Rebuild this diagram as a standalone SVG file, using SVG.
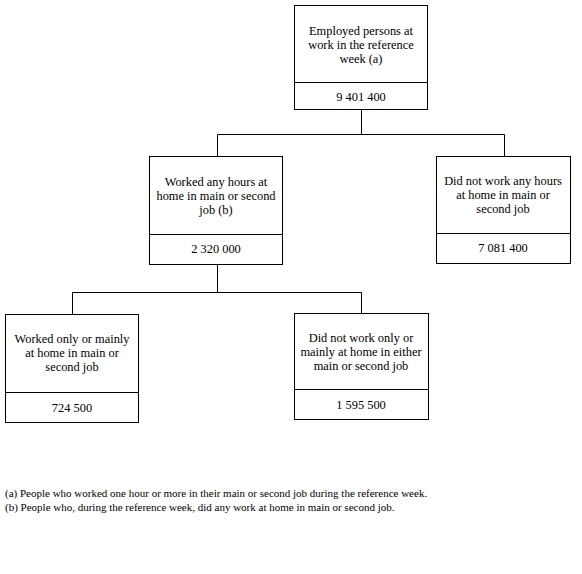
<svg xmlns="http://www.w3.org/2000/svg" width="582" height="574" viewBox="0 0 582 574">
<style>
.box{fill:#fff;stroke:#000;stroke-width:1}
.ln{fill:none;stroke:#000;stroke-width:1}
.t{font-size:12.4px;fill:#000;text-anchor:middle}
.fn{font-size:11px;fill:#000;text-anchor:start}
</style>
<rect width="582" height="574" fill="#fff"/>
<g id="connectors" class="ln">
<path d="M361.5 109V134.5M217.5 134.5H504.5M217.5 134.5V156M504.5 134.5V156"/>
<path d="M217.5 265V292.5M72.5 292.5H361.5M72.5 292.5V314M361.5 292.5V313"/>
</g>
<g font-family="'Liberation Serif', 'Times New Roman', Times, serif">
<g id="n1">
<rect class="box" x="294.5" y="5.5" width="133" height="104"/>
<line class="ln" x1="294.5" y1="82.5" x2="427.5" y2="82.5"/>
<text class="t" x="361" y="35">Employed persons at</text>
<text class="t" x="361" y="49">work in the reference</text>
<text class="t" x="361" y="63">week (a)</text>
<text class="t" x="361" y="101">9 401 400</text>
</g>
<g id="n2">
<rect class="box" x="149.5" y="156.5" width="133" height="108"/>
<line class="ln" x1="149.5" y1="234.5" x2="282.5" y2="234.5"/>
<text class="t" x="216" y="186">Worked any hours at</text>
<text class="t" x="216" y="200">home in main or second</text>
<text class="t" x="216" y="214">job (b)</text>
<text class="t" x="216" y="253">2 320 000</text>
</g>
<g id="n3">
<rect class="box" x="436.5" y="156.5" width="134" height="107"/>
<line class="ln" x1="436.5" y1="233.5" x2="570.5" y2="233.5"/>
<text class="t" x="503" y="185">Did not work any hours</text>
<text class="t" x="503" y="199">at home in main or</text>
<text class="t" x="503" y="213">second job</text>
<text class="t" x="503" y="252">7 081 400</text>
</g>
<g id="n4">
<rect class="box" x="5.5" y="314.5" width="133" height="108"/>
<line class="ln" x1="5.5" y1="392.5" x2="138.5" y2="392.5"/>
<text class="t" x="72" y="343">Worked only or mainly</text>
<text class="t" x="72" y="357">at home in main or</text>
<text class="t" x="72" y="371">second job</text>
<text class="t" x="72" y="412">724 500</text>
</g>
<g id="n5">
<rect class="box" x="294.5" y="313.5" width="134" height="106"/>
<line class="ln" x1="294.5" y1="389.5" x2="428.5" y2="389.5"/>
<text class="t" x="361" y="342">Did not work only or</text>
<text class="t" x="361" y="356">mainly at home in either</text>
<text class="t" x="361" y="370">main or second job</text>
<text class="t" x="361" y="409">1 595 500</text>
</g>
<g id="notes">
<text class="fn" x="5" y="497">(a) People who worked one hour or more in their main or second job during the reference week.</text>
<text class="fn" x="5" y="511">(b) People who, during the reference week, did any work at home in main or second job.</text>
</g>
</g>
</svg>
